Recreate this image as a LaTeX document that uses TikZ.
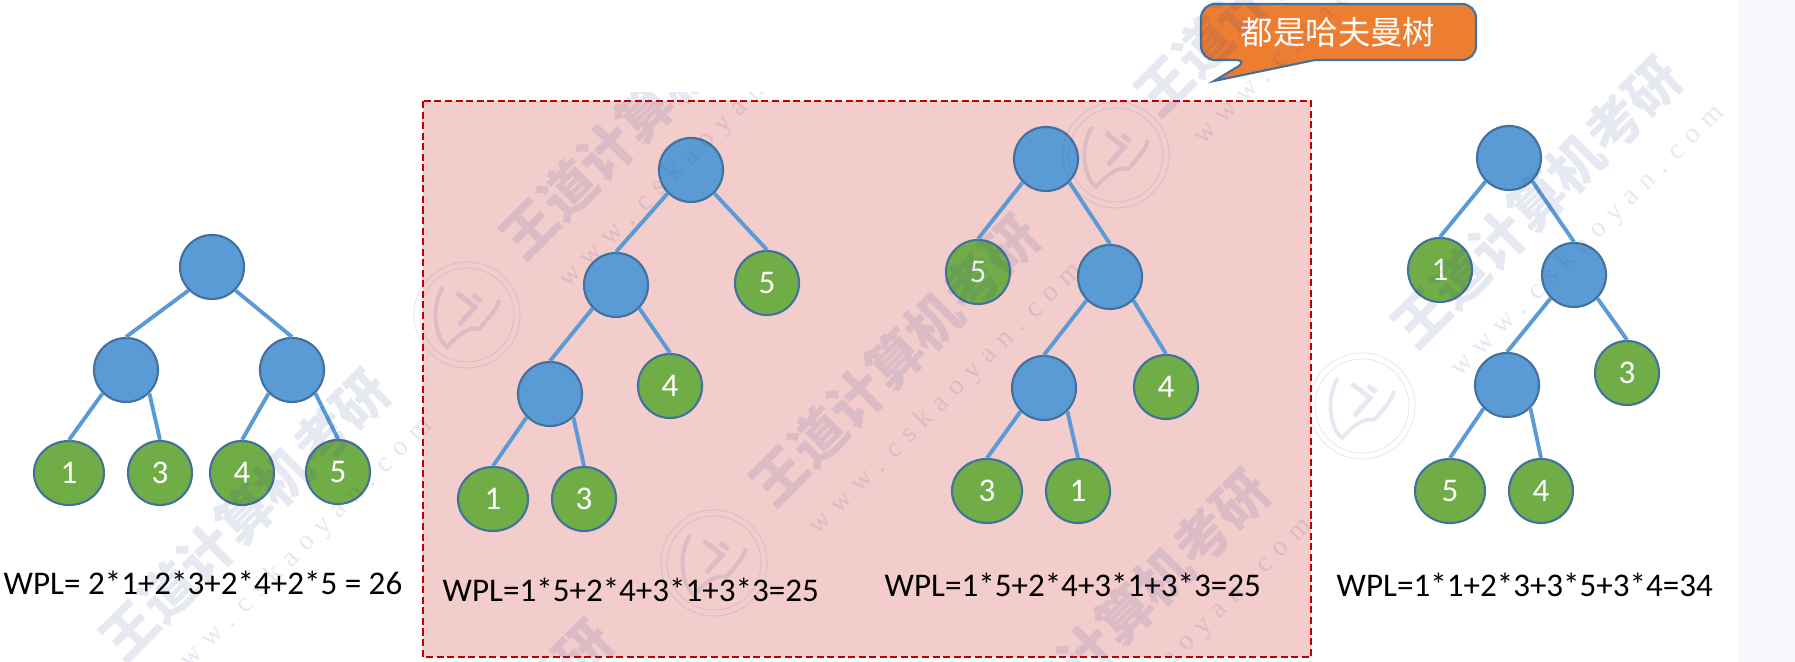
\documentclass[tikz,border=0pt]{standalone}
\usepackage{fontspec}
\setmainfont{Carlito}
\newfontfamily\cjkfont{Noto Sans CJK SC}
\newfontfamily\webfont{Liberation Serif}
\usetikzlibrary{shapes.geometric}

\definecolor{edgeblue}{HTML}{5B9BD5}
\definecolor{borderblue}{HTML}{41719C}
\definecolor{leafgreen}{HTML}{70AD47}
\definecolor{tagorange}{HTML}{ED7D31}
\definecolor{boxpink}{HTML}{F3CCCC}
\definecolor{boxred}{HTML}{C00000}
\definecolor{stripblue}{HTML}{F8F9FD}
\definecolor{markblue}{HTML}{324396}

\tikzset{
  x=0.01cm, y=-0.01cm,
  treenode/.style={ellipse, draw=borderblue, line width=0.6pt, fill=edgeblue, inner sep=0pt, minimum width=0.64cm, minimum height=0.64cm},
  leafnode/.style={treenode, fill=leafgreen, text=white, font=\fontsize{9.4pt}{11pt}\selectfont},
  wideleaf/.style={leafnode, minimum width=0.7cm},
  edge/.style={draw=edgeblue, line width=1.1pt},
  wpl/.style={font=\fontsize{9.4pt}{11pt}\selectfont, inner sep=0pt, anchor=base west},
  markname/.style={font=\cjkfont\bfseries\fontsize{15.5pt}{16pt}\selectfont, text=markblue, text opacity=0.12, rotate=45},
  markweb/.style={font=\webfont\fontsize{8pt}{9pt}\selectfont\addfontfeature{LetterSpace=8}, text=markblue, text opacity=0.12, rotate=45},
  markseal/.pic={
    \draw [draw=markblue, draw opacity=0.1, line width=0.3pt] (0,0) circle (0.53cm) (0,0) circle (0.47cm);
    \draw [draw=markblue, draw opacity=0.12, line width=1.1pt] (-24,-28) .. controls (-38,-5) and (-30,25) .. (-20,32) .. controls (-5,15) and (5,12) .. (12,14) .. controls (20,5) and (30,-5) .. (32,-15);
    \draw [draw=markblue, draw opacity=0.12, line width=1.4pt] (-10,-22) -- (8,-8) -- (-8,10) (6,-20) -- (14,-14);
  }
}

\begin{document}
\begin{tikzpicture}
\useasboundingbox (0,0) rectangle (1795,662);
\fill [white] (0,0) rectangle (1795,662);
\fill [stripblue] (1738,0) rectangle (1795,662);

\draw [boxred, fill=boxpink, line width=0.6pt, dash pattern=on 2pt off 1pt] (423,101) rectangle (1311,657);

% tree on the left
\node [treenode] (aroot) at (212,267) {};
\node [treenode] (aleft) at (126,370) {};
\node [treenode] (aright) at (292,370) {};
\node [wideleaf] (aone) at (69,473) {1};
\node [leafnode] (athree) at (160,473) {3};
\node [leafnode] (afour) at (242,473) {4};
\node [leafnode] (afive) at (338,472) {5};
\draw [edge] (aroot.225) -- (aleft.north);
\draw [edge] (aroot.-45) -- (aright.north);
\draw [edge] (aleft.225) -- (aone.north);
\draw [edge] (aleft.-45) -- (athree.north);
\draw [edge] (aright.225) -- (afour.north);
\draw [edge] (aright.-45) -- (afive.north);
\node [wpl] (awpl) at (3,595) {WPL= 2*1+2*3+2*4+2*5 = 26};

% first tree in the box
\node [treenode] (broot) at (691,170) {};
\node [treenode] (bmid) at (616,285) {};
\node [leafnode] (bfive) at (767,283) {5};
\node [treenode] (blow) at (550,394) {};
\node [leafnode] (bfour) at (670,386) {4};
\node [wideleaf] (bone) at (493,499) {1};
\node [leafnode] (bthree) at (584,499) {3};
\draw [edge] (broot.225) -- (bmid.north);
\draw [edge] (broot.-45) -- (bfive.north);
\draw [edge] (bmid.225) -- (blow.north);
\draw [edge] (bmid.-45) -- (bfour.north);
\draw [edge] (blow.225) -- (bone.north);
\draw [edge] (blow.-45) -- (bthree.north);
\node [wpl] (bwpl) at (442,602) {WPL=1*5+2*4+3*1+3*3=25};

% second tree in the box
\node [treenode] (croot) at (1046,159) {};
\node [leafnode] (cfive) at (978,272) {5};
\node [treenode] (cmid) at (1110,277) {};
\node [treenode] (clow) at (1044,388) {};
\node [leafnode] (cfour) at (1166,387) {4};
\node [wideleaf] (cthree) at (987,491) {3};
\node [leafnode] (cone) at (1078,491) {1};
\draw [edge] (croot.225) -- (cfive.north);
\draw [edge] (croot.-45) -- (cmid.north);
\draw [edge] (cmid.225) -- (clow.north);
\draw [edge] (cmid.-45) -- (cfour.north);
\draw [edge] (clow.225) -- (cthree.north);
\draw [edge] (clow.-45) -- (cone.north);
\node [wpl] (cwpl) at (884,597) {WPL=1*5+2*4+3*1+3*3=25};

% tree on the right
\node [treenode] (droot) at (1509,158) {};
\node [leafnode] (done) at (1440,270) {1};
\node [treenode] (dmid) at (1574,275) {};
\node [treenode] (dlow) at (1507,385) {};
\node [leafnode] (dthree) at (1627,373) {3};
\node [wideleaf] (dfive) at (1450,491) {5};
\node [leafnode] (dfour) at (1541,491) {4};
\draw [edge] (droot.225) -- (done.north);
\draw [edge] (droot.-45) -- (dmid.north);
\draw [edge] (dmid.225) -- (dlow.north);
\draw [edge] (dmid.-45) -- (dthree.north);
\draw [edge] (dlow.225) -- (dfive.north);
\draw [edge] (dlow.-45) -- (dfour.north);
\node [wpl] (dwpl) at (1336,597) {WPL=1*1+2*3+3*5+3*4=34};

% the tag
\draw [draw=borderblue, line width=0.6pt, fill=tagorange] (1249,60) -- (1214,81) -- (1315,60)
  [rounded corners=0.14cm] -- (1476,60) -- (1476,4) -- (1201,4) -- (1201,60) -- cycle;
\node [text=white, font=\cjkfont\fontsize{9.2pt}{11pt}\selectfont] (tag) at (1338,32) {都是哈夫曼树};

% watermark
\begin{scope}
\clip (0,93) rectangle (1795,662);
\node [markname] (markb) at (645,113) {王道计算机考研};
\node [markweb] (webb) at (696,152) {w w w . c s k a o y a n . c o m};
\end{scope}
\begin{scope}
\clip (0,0) rectangle (1795,662);
\node [markname] (marka) at (245,515) {王道计算机考研};
\node [markweb] (weba) at (296,554) {w w w . c s k a o y a n . c o m};
\node [markname] (markc) at (895,360) {王道计算机考研};
\node [markweb] (webc) at (946,399) {w w w . c s k a o y a n . c o m};
\node [markname] (markd) at (1537,202) {王道计算机考研};
\node [markweb] (webd) at (1588,241) {w w w . c s k a o y a n . c o m};
\node [markname] (marke) at (1280,-30) {王道计算机考研};
\node [markweb] (webe) at (1331,9) {w w w . c s k a o y a n . c o m};
\node [markname] (markf) at (1125,615) {王道计算机考研};
\node [markweb] (webf) at (1176,654) {w w w . c s k a o y a n . c o m};
\node [markname] (markg) at (468,765) {王道计算机考研};
\end{scope}
\pic at (467,315) {markseal};
\pic at (714,563) {markseal};
\pic at (1116,155) {markseal};
\pic at (1362,406) {markseal};

\end{tikzpicture}
\end{document}
